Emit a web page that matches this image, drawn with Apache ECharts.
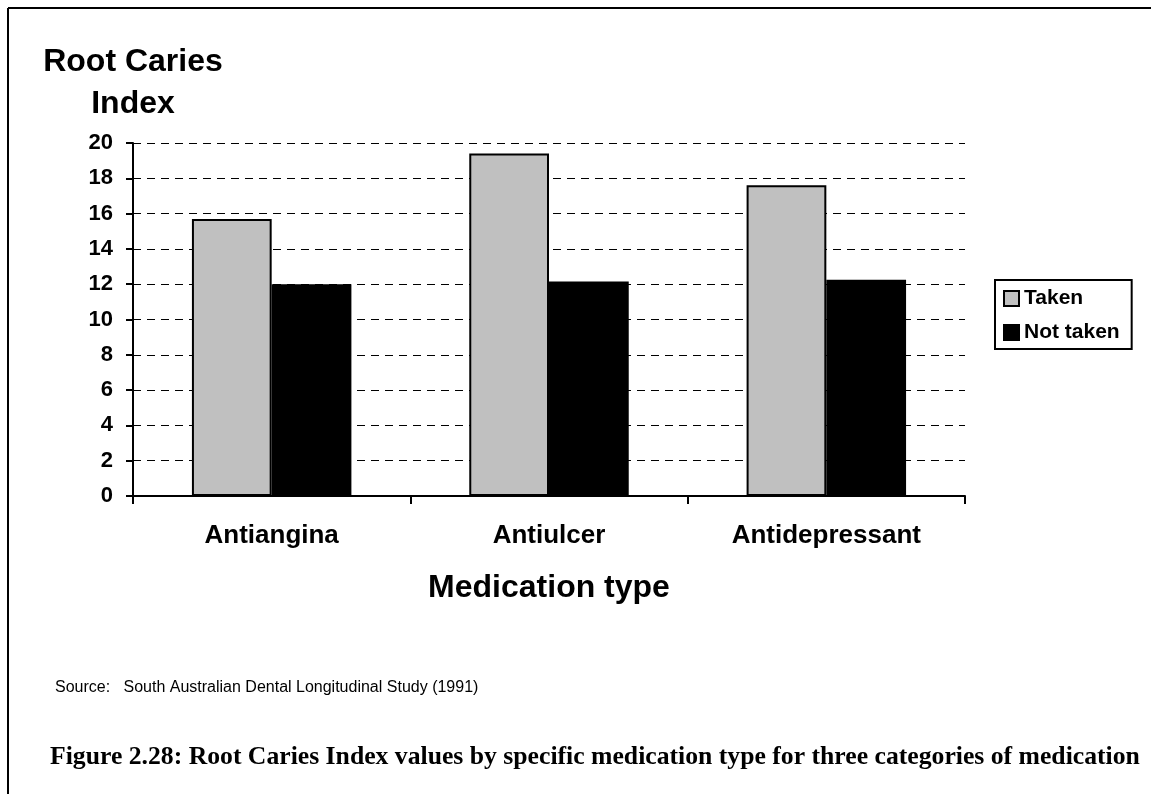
<!DOCTYPE html>
<html>
<head>
<meta charset="utf-8">
<title>Root Caries Index by medication type</title>
<script src="https://cdn.jsdelivr.net/npm/echarts@6/dist/echarts.min.js"></script>
<style>
  html, body { margin: 0; padding: 0; background: #fff; }
  #chart { width: 1151px; height: 794px; }
</style>
</head>
<body>
<div id="chart"></div>
<script>
// data
var categories = ['Antiangina', 'Antiulcer', 'Antidepressant'];
var takenValues = [15.7, 19.4, 17.6];
var notTakenValues = [12.0, 12.15, 12.25];
var seriesNames = ['Taken', 'Not taken'];

var chart = echarts.init(document.getElementById('chart'));

var barBorder = { borderColor: '#000', borderWidth: 2 };

var option = {
  backgroundColor: '#fff',
  animation: false,
  textStyle: { fontFamily: 'Arial, "Liberation Sans", sans-serif', color: '#000' },
  grid: { left: 133, right: 186, top: 143, bottom: 298, containLabel: false },
  legend: {
    orient: 'vertical',
    left: 995, top: 280,
    data: seriesNames,
    icon: 'rect',
    itemWidth: 15, itemHeight: 15, itemGap: 13,
    padding: [8, 12, 6, 8],
    borderColor: '#000', borderWidth: 2,
    textStyle: { fontSize: 21, fontWeight: 'bold', color: '#000' }
  },
  xAxis: {
    type: 'category',
    data: categories,
    name: 'Medication type',
    nameLocation: 'middle',
    nameGap: 76,
    nameTextStyle: { fontSize: 32, fontWeight: 'bold', color: '#000' },
    axisLine: { lineStyle: { color: '#000', width: 2 } },
    axisTick: { show: true, length: 8, lineStyle: { color: '#000', width: 2 } },
    axisLabel: { margin: 27, fontSize: 26, fontWeight: 'bold', color: '#000' }
  },
  yAxis: {
    type: 'value',
    min: 0, max: 20, interval: 2,
    name: 'Root Caries\nIndex',
    nameLocation: 'end',
    nameGap: 18,
    nameTextStyle: { fontSize: 32, fontWeight: 'bold', color: '#000', align: 'center', lineHeight: 42 },
    axisLine: { show: true, lineStyle: { color: '#000', width: 2 } },
    axisTick: { show: true, length: 7, lineStyle: { color: '#000', width: 2 } },
    axisLabel: { margin: 20, fontSize: 22, fontWeight: 'bold', color: '#000' },
    splitLine: { lineStyle: { color: '#000', width: 1, type: [8, 6] } }
  },
  series: [
    {
      name: seriesNames[0], type: 'bar', data: takenValues,
      barGap: '0%', barCategoryGap: '42.5%',
      itemStyle: Object.assign({ color: '#c0c0c0' }, barBorder)
    },
    {
      name: seriesNames[1], type: 'bar', data: notTakenValues,
      itemStyle: Object.assign({ color: '#000' }, barBorder)
    }
  ],
  graphic: [
    { type: 'line', shape: { x1: 8, y1: 8, x2: 1151, y2: 8 }, style: { stroke: '#000', lineWidth: 2 } },
    { type: 'line', shape: { x1: 8, y1: 8, x2: 8, y2: 794 }, style: { stroke: '#000', lineWidth: 2 } },
    {
      type: 'text', left: 55, top: 680,
      style: { text: 'Source:   South Australian Dental Longitudinal Study (1991)', font: '16px Arial, "Liberation Sans", sans-serif', fill: '#000' }
    },
    {
      type: 'text', left: 50, top: 744,
      style: { text: 'Figure 2.28: Root Caries Index values by specific medication type for three categories of medication', font: 'bold 25.7px "Liberation Serif", "Times New Roman", serif', fill: '#000' }
    }
  ]
};

chart.setOption(option);
</script>
</body>
</html>
